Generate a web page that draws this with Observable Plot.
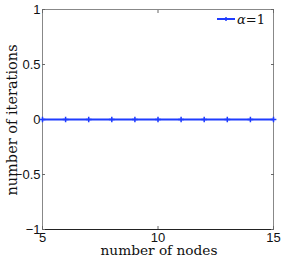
<!DOCTYPE html>
<html><head><meta charset="utf-8">
<script src="https://cdn.jsdelivr.net/npm/d3@7"></script>
<script src="https://cdn.jsdelivr.net/npm/@observablehq/plot@0.6"></script>
<style>
body{margin:0;background:#fff;}
#chart{position:relative;width:281px;height:258px;}
</style>
</head><body><div id="chart"></div>
<script>
const nodes = [5,6,7,8,9,10,11,12,13,14,15];
const iterations = [0,0,0,0,0,0,0,0,0,0,0];
const xTicks = [5,10,15];
const yTicks = [-1,-0.5,0,0.5,1];
const seriesLabel = "α=1";
const xDomain = [5,15];
const yDomain = [-1,1];

const data = nodes.map((n,i)=>({n, it: iterations[i]}));
const blue = "#1f3cff";
const sans = "Liberation Sans, Arial, sans-serif";
const serif = "DejaVu Serif, serif";
const fmt = d3.format("~g");

const plot = Plot.plot({
  width: 281, height: 258,
  marginLeft: 42, marginRight: 8, marginTop: 9, marginBottom: 29,
  style: {fontFamily: sans, fontSize: "13px", background: "#fff", overflow: "visible"},
  x: {domain: xDomain, label: null},
  y: {domain: yDomain, label: null},
  marks: [
    Plot.frame({stroke: "#888", strokeWidth: 1}),
    Plot.ruleY([yDomain[0]], {stroke: "#222"}),
    Plot.axisX(xTicks, {anchor: "bottom", tickSize: 0, tickPadding: 3, fontSize: 13, fill: "#111", tickFormat: fmt}),
    Plot.axisX(xTicks, {anchor: "bottom", tickSize: -3, text: null, stroke: "#666"}),
    Plot.axisX(xTicks, {anchor: "top", tickSize: -3, text: null, stroke: "#666"}),
    Plot.axisY(yTicks, {anchor: "left", tickSize: 0, tickPadding: 2, fontSize: 13, fill: "#111", tickFormat: fmt}),
    Plot.axisY(yTicks, {anchor: "left", tickSize: -3, text: null, stroke: "#666"}),
    Plot.axisY(yTicks, {anchor: "right", tickSize: -3, text: null, stroke: "#666"}),
    Plot.line(data, {x: "n", y: "it", stroke: blue, strokeWidth: 2}),
    Plot.dot(data, {x: "n", y: "it", symbol: "plus", r: 2, stroke: blue, strokeWidth: 1.5})
  ]
});
const div = document.getElementById("chart");
div.appendChild(plot);

// axis titles and legend as real text
const svg = d3.select(plot);
svg.append("text").attr("x", 159).attr("y", 255).attr("text-anchor","middle")
  .attr("font-family", serif).attr("font-size", 13.7).attr("fill","#111").text("number of nodes");
svg.append("text").attr("transform","translate(17,120) rotate(-90)").attr("text-anchor","middle")
  .attr("font-family", serif).attr("font-size", 14.5).attr("fill","#111").text("number of iterations");
const lg = svg.append("g");
lg.append("line").attr("x1",217).attr("x2",235).attr("y1",19).attr("y2",19).attr("stroke",blue).attr("stroke-width",2);
lg.append("path").attr("d","M226,17V21").attr("stroke",blue).attr("stroke-width",1.5);
lg.append("text").attr("x",237).attr("y",24).attr("text-anchor","start").attr("font-family",serif).attr("font-size",13).attr("fill","#111")
  .html('<tspan font-style="italic">α</tspan>=1');
</script></body></html>
